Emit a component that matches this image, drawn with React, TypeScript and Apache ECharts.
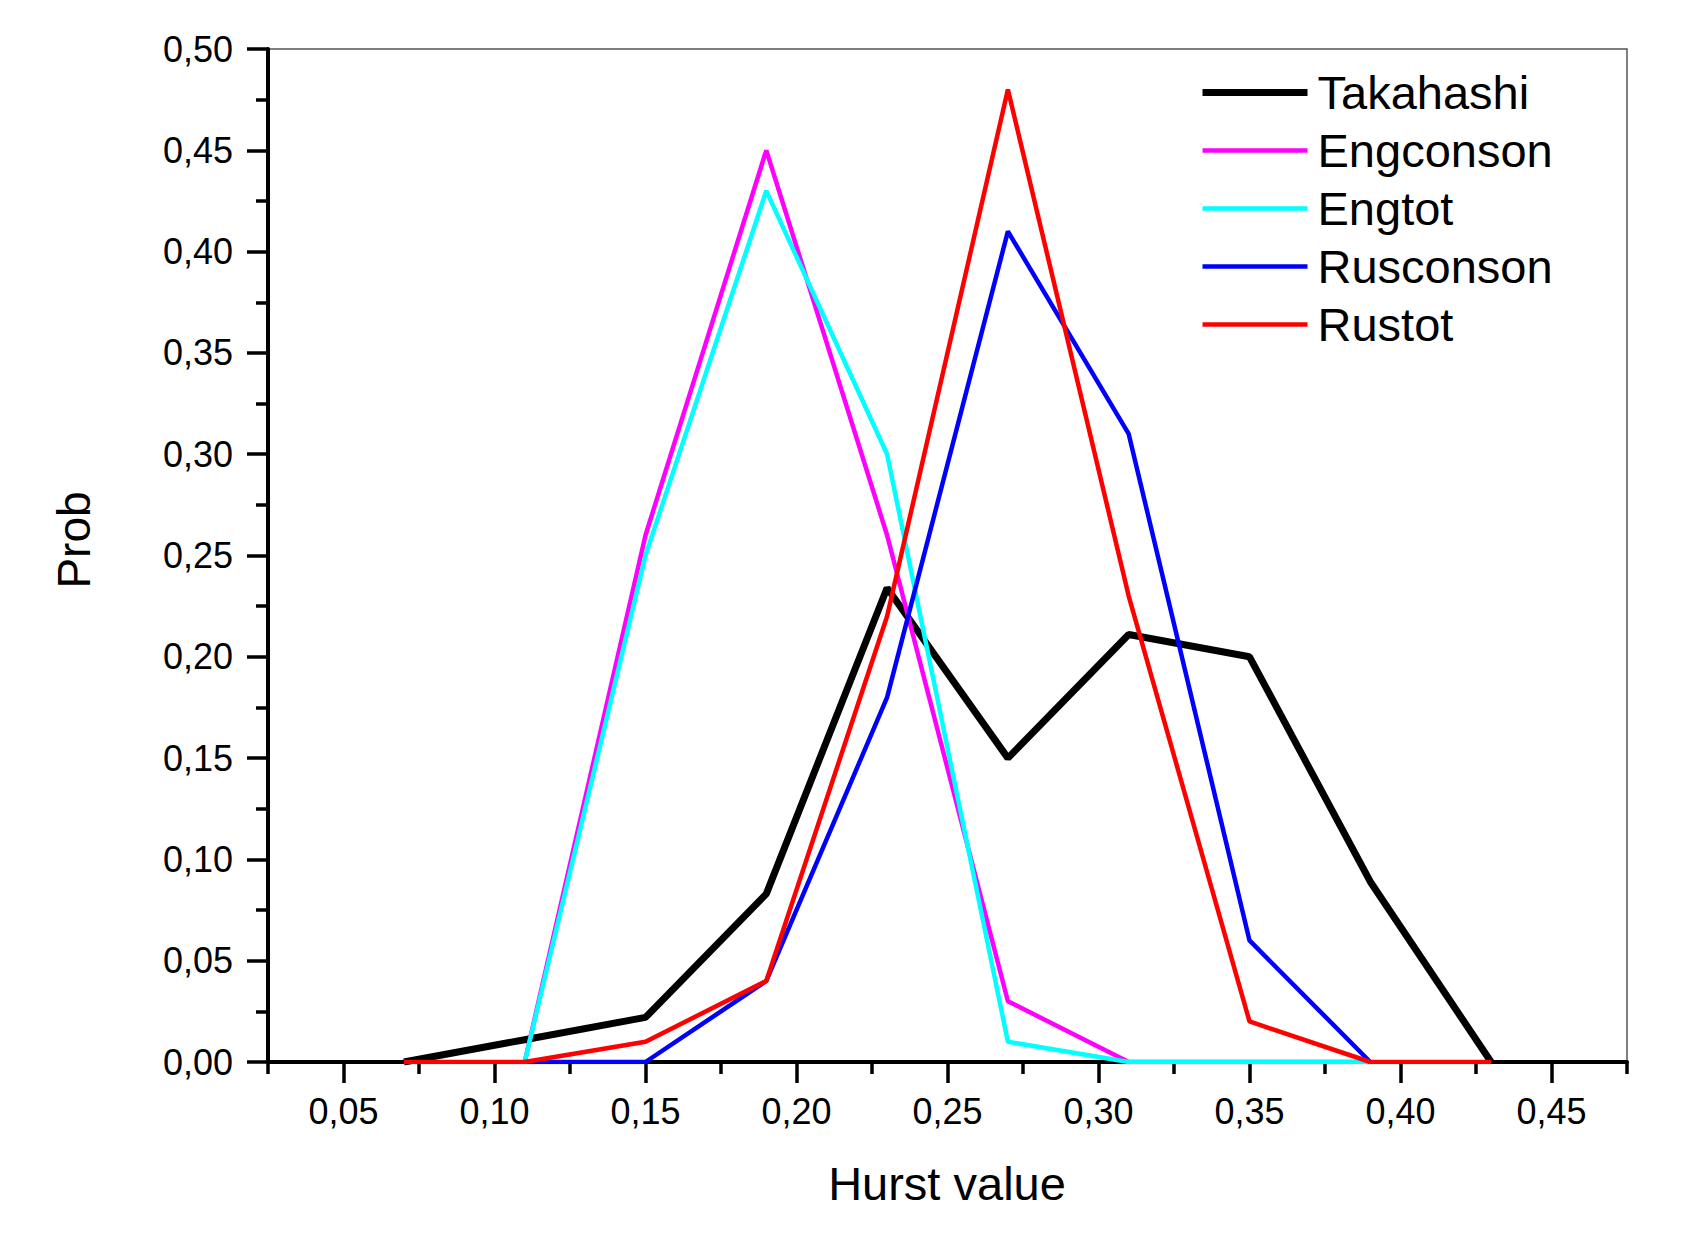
import React, { useEffect, useRef } from "react";
import * as echarts from "echarts";

const hurst = [0.07, 0.11, 0.15, 0.19, 0.23, 0.27, 0.31, 0.35, 0.39, 0.43];
const takahashi = [0, 0.011, 0.022, 0.083, 0.234, 0.15, 0.211, 0.2, 0.089, 0];
const engconson = [null, 0, 0.26, 0.45, 0.26, 0.03, 0, 0, 0, null];
const engtot = [null, 0, 0.25, 0.43, 0.3, 0.01, 0, 0, 0, null];
const rusconson = [null, 0, 0, 0.04, 0.18, 0.41, 0.31, 0.06, 0, null];
const rustot = [0, 0, 0.01, 0.04, 0.22, 0.48, 0.23, 0.02, 0, 0];

const seriesNames = ["Takahashi", "Engconson", "Engtot", "Rusconson", "Rustot"];
const seriesColors = ["#000000", "#ff00ff", "#00ffff", "#0000ff", "#ff0000"];
const xTickLabels = ["0,05", "0,10", "0,15", "0,20", "0,25", "0,30", "0,35", "0,40", "0,45"];

const FONT = "'Liberation Sans', Arial, sans-serif";

function pairs(vals: (number | null)[]) {
  const out: number[][] = [];
  vals.forEach((v, i) => {
    if (v !== null) out.push([hurst[i], v]);
  });
  return out;
}

export default function App() {
  const ref = useRef<HTMLDivElement>(null);
  useEffect(() => {
    if (!ref.current) return;
    const chart = echarts.init(ref.current, undefined, { renderer: "svg" });
    const allVals = [takahashi, engconson, engtot, rusconson, rustot];
    const option: any = {
      animation: false,
      backgroundColor: "#ffffff",
      grid: {
        left: 268,
        right: 67,
        top: 49,
        bottom: 188,
        show: true,
        borderColor: "#555555",
        borderWidth: 1.5,
      },
      legend: {
        orient: "vertical",
        left: 1199,
        top: 69,
        padding: 0,
        itemWidth: 105,
        itemHeight: 14,
        itemGap: 11,
        data: seriesNames,
        itemStyle: { opacity: 0 },
        lineStyle: { width: "inherit" },
        textStyle: { fontSize: 47, fontFamily: FONT, color: "#000", padding: [0, 0, 0, 5] },
      },
      xAxis: [
        {
          type: "value",
          min: 0.025,
          max: 0.475,
          interval: 0.05,
          position: "bottom",
          axisLine: { show: true, onZero: false, lineStyle: { color: "#000", width: 4 } },
          axisTick: { show: true, inside: false, length: 12, lineStyle: { color: "#000", width: 3.5 } },
          axisLabel: { show: false },
          splitLine: { show: false },
        },
        {
          type: "category",
          data: xTickLabels,
          boundaryGap: true,
          position: "bottom",
          axisLine: { show: false },
          axisTick: { show: true, alignWithLabel: true, length: 21, lineStyle: { color: "#000", width: 3.5 } },
          axisLabel: { show: true, margin: 31, fontSize: 36, fontFamily: FONT, color: "#000" },
          splitLine: { show: false },
        },
      ],
      yAxis: {
        type: "value",
        min: 0,
        max: 0.5,
        interval: 0.05,
        axisLine: { show: true, onZero: false, lineStyle: { color: "#000", width: 4 } },
        axisTick: { show: true, inside: false, length: 21, lineStyle: { color: "#000", width: 3.5 } },
        minorTick: { show: true, splitNumber: 2, length: 12, lineStyle: { color: "#000", width: 3.5 } },
        axisLabel: {
          margin: 35,
          fontSize: 36,
          fontFamily: FONT,
          color: "#000",
          formatter: (v: number) => v.toFixed(2).replace(".", ","),
        },
        splitLine: { show: false },
        minorSplitLine: { show: false },
      },
      graphic: [
        {
          type: "text",
          x: 947,
          y: 1183,
          style: {
            text: "Hurst value",
            fontSize: 47,
            fontFamily: FONT,
            fill: "#000",
            textAlign: "center",
            textVerticalAlign: "middle",
          },
        },
        {
          type: "text",
          x: 74,
          y: 540,
          rotation: Math.PI / 2,
          style: {
            text: "Prob",
            fontSize: 46,
            fontFamily: FONT,
            fill: "#000",
            textAlign: "center",
            textVerticalAlign: "middle",
          },
        },
      ],
      series: seriesNames.map((name, i) => ({
        name,
        type: "line",
        xAxisIndex: 0,
        data: pairs(allVals[i]),
        symbol: "none",
        color: seriesColors[i],
        lineStyle: { color: seriesColors[i], width: i === 0 ? 7 : 4.5 },
        z: 2 + i,
      })),
    };
    chart.setOption(option);
    return () => chart.dispose();
  }, []);
  return (
    <div
      ref={ref}
      style={{ position: "absolute", left: 0, top: 0, width: 1694, height: 1250 }}
    />
  );
}
